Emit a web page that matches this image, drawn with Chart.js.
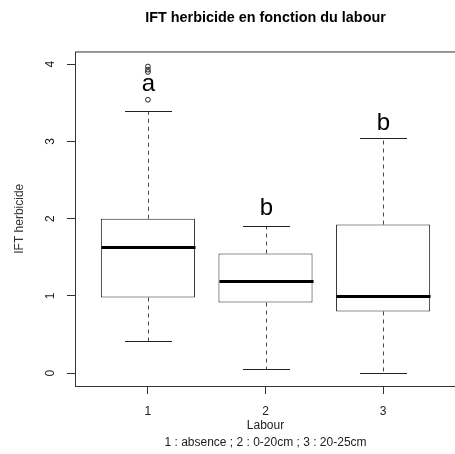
<!DOCTYPE html>
<html>
<head>
<meta charset="utf-8">
<script src="https://cdn.jsdelivr.net/npm/chart.js@4.4.1/dist/chart.umd.min.js"></script>
<style>
  html, body { margin: 0; padding: 0; background: #fff; overflow: hidden; }
  canvas { display: block; }
</style>
</head>
<body>
<canvas id="grafico-ift" width="461" height="454"></canvas>
<script>
// Groupes de labour (axe x)
const labourGroups = [1, 2, 3];
// Statistiques des boites
const q1Values = [0.98, 0.915, 0.80];
const medianValues = [1.635, 1.195, 1.0];
const q3Values = [2.0, 1.55, 1.925];
const whiskerLow = [0.42, 0.05, 0.0];
const whiskerHigh = [3.40, 1.91, 3.05];
// Points atypiques (groupe 1)
const outlierGroups = [1, 1, 1, 1];
const outlierValues = [3.54, 3.90, 3.93, 3.97];
// Lettres des groupes
const letterTexts = ['a', 'b', 'b'];
const letterValues = [3.654, 2.045, 3.155];
// Graduations
const xTicks = [1, 2, 3];
const yTicks = [0, 1, 2, 3, 4];

Chart.defaults.font.family = "'Liberation Sans', Arial, sans-serif";
Chart.defaults.color = '#222';

// moustaches, medianes, lettres et cadre
const boxplotExtras = {
    id: 'boxplotExtras',
    afterDatasetsDraw(chart) {
        const ctx = chart.ctx;
        const xs = chart.scales.x;
        const ys = chart.scales.y;
        const boxes = chart.getDatasetMeta(0).data;
        ctx.save();
        for (let i = 0; i < labourGroups.length; i++) {
            const x = Math.round(xs.getPixelForValue(labourGroups[i])) + 0.5;
            const w = boxes[i].width;
            const yq1 = ys.getPixelForValue(q1Values[i]);
            const yq3 = ys.getPixelForValue(q3Values[i]);
            const ylo = Math.round(ys.getPixelForValue(whiskerLow[i])) + 0.5;
            const yhi = Math.round(ys.getPixelForValue(whiskerHigh[i])) + 0.5;

            // moustaches en tirets
            ctx.strokeStyle = '#444';
            ctx.lineWidth = 1;
            ctx.setLineDash([4, 4]);
            ctx.beginPath();
            ctx.moveTo(x, yq3); ctx.lineTo(x, yhi);
            ctx.moveTo(x, yq1); ctx.lineTo(x, ylo);
            ctx.stroke();
            ctx.setLineDash([]);

            // extremites
            ctx.strokeStyle = '#222';
            ctx.beginPath();
            ctx.moveTo(x - w / 4, yhi); ctx.lineTo(x + w / 4, yhi);
            ctx.moveTo(x - w / 4, ylo); ctx.lineTo(x + w / 4, ylo);
            ctx.stroke();

            // mediane
            const ymed = Math.round(ys.getPixelForValue(medianValues[i])) + 0.5;
            ctx.strokeStyle = '#000';
            ctx.lineWidth = 3;
            ctx.beginPath();
            ctx.moveTo(x - w / 2, ymed); ctx.lineTo(x + w / 2, ymed);
            ctx.stroke();

            // lettre
            ctx.fillStyle = '#000';
            ctx.font = "24px 'Liberation Sans', Arial, sans-serif";
            ctx.textAlign = 'center';
            ctx.textBaseline = 'alphabetic';
            ctx.fillText(letterTexts[i], x, ys.getPixelForValue(letterValues[i]));
        }
        // cadre
        const a = chart.chartArea;
        ctx.strokeStyle = '#333';
        ctx.lineWidth = 1;
        ctx.strokeRect(a.left + 0.5, a.top + 0.5, a.right - a.left, a.bottom - a.top);
        ctx.restore();
    }
};

const ctx = document.getElementById('grafico-ift');

const data = {
    datasets: [{
        type: 'bar',
        data: labourGroups.map((g, i) => ({ x: g, y: [q1Values[i], q3Values[i]] })),
        backgroundColor: '#fff',
        borderColor: '#222',
        borderWidth: 1,
        borderSkipped: false,
        barPercentage: 0.8,
        categoryPercentage: 1
    }, {
        type: 'scatter',
        data: outlierGroups.map((g, i) => ({ x: g, y: outlierValues[i] })),
        pointStyle: 'circle',
        pointRadius: 2.4,
        backgroundColor: 'rgba(0,0,0,0)',
        borderColor: '#222',
        borderWidth: 1
    }]
};

const config = {
    type: 'bar',
    data: data,
    options: {
        responsive: false,
        animation: false,
        layout: { padding: { left: 0, right: 1.6, top: 0, bottom: 0 } },
        plugins: {
            legend: { display: false },
            tooltip: { enabled: false },
            title: {
                display: true,
                text: 'IFT herbicide en fonction du labour',
                fullSize: false,
                color: '#000',
                font: { size: 14.4, weight: 'bold' },
                padding: { top: 9, bottom: 25.2 }
            }
        },
        scales: {
            x: {
                type: 'linear',
                min: 0.38,
                max: 3.62,
                offset: false,
                afterBuildTicks: axis => { axis.ticks = xTicks.map(v => ({ value: v })); },
                afterFit: axis => { axis.height = 68; },
                grid: { offset: false, drawOnChartArea: false, drawTicks: true, tickLength: 8, color: '#333' },
                border: { display: false },
                ticks: { font: { size: 12 }, color: '#222', padding: 10 },
                title: {
                    display: true,
                    text: ['Labour', '1 : absence ; 2 : 0-20cm ; 3 : 20-25cm'],
                    color: '#222',
                    font: { size: 12, lineHeight: 1.417 },
                    padding: { top: 0, bottom: 2.5 }
                }
            },
            y: {
                type: 'linear',
                min: -0.165,
                max: 4.165,
                afterBuildTicks: axis => { axis.ticks = yTicks.map(v => ({ value: v })); },
                afterFit: axis => { axis.width = 75; },
                grid: { drawOnChartArea: false, drawTicks: true, tickLength: 8, color: '#333' },
                border: { display: false },
                ticks: { font: { size: 12 }, color: '#222', padding: 13, minRotation: 90, maxRotation: 90, crossAlign: 'center' },
                title: {
                    display: true,
                    text: 'IFT herbicide',
                    color: '#333',
                    font: { size: 12 },
                    padding: { top: 12.8, bottom: 0 }
                }
            }
        }
    },
    plugins: [boxplotExtras]
};

new Chart(ctx, config);
</script>
</body>
</html>
